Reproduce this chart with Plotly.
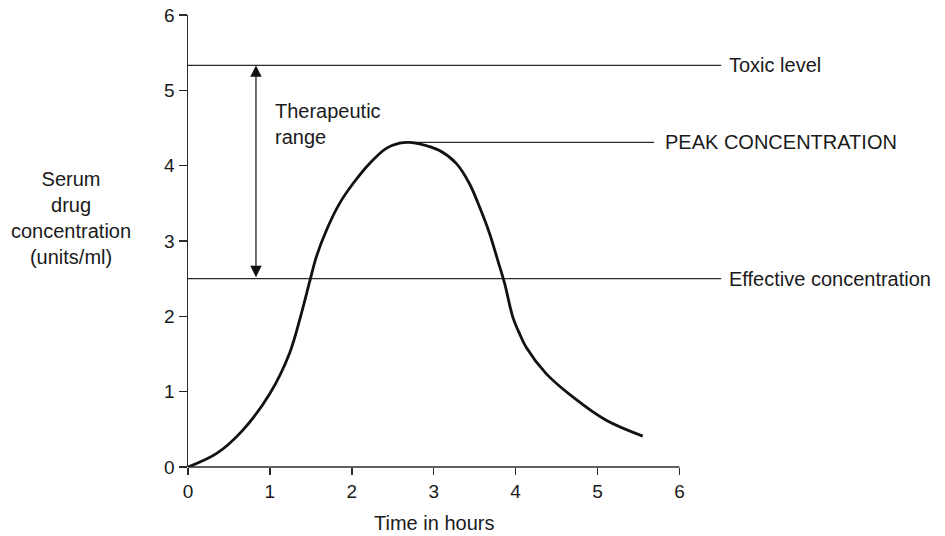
import plotly.graph_objects as go

# Drug concentration curve (hours, units/ml)
time_h = [0.0, 0.35, 0.67, 1.0, 1.24, 1.385, 1.49, 1.567, 1.689, 1.851, 2.013, 2.217, 2.421,
          2.583, 2.70, 2.827, 3.071, 3.275, 3.437, 3.560, 3.682, 3.783, 3.865, 3.966, 4.048,
          4.129, 4.373, 4.698, 5.106, 5.552]
conc = [0.0, 0.18, 0.49, 0.975, 1.51, 2.04, 2.48, 2.79, 3.14, 3.50, 3.76, 4.03, 4.23,
        4.30, 4.31, 4.29, 4.20, 4.03, 3.76, 3.45, 3.10, 2.74, 2.44, 1.99, 1.77,
        1.59, 1.24, 0.93, 0.62, 0.41]

toxic_level = 5.33
effective_level = 2.5
peak_level = 4.31
peak_line_x = [2.62, 5.69]
ref_line_x = [0.0, 6.51]
arrow_x = 0.83

x_ticks = [0, 1, 2, 3, 4, 5, 6]
y_ticks = [0, 1, 2, 3, 4, 5, 6]

FONT = "Liberation Sans, Arial, Helvetica, sans-serif"
LINE = "#2a2a2a"

fig = go.Figure()

# reference lines
fig.add_trace(go.Scatter(x=ref_line_x, y=[toxic_level, toxic_level], mode="lines",
                         line=dict(color=LINE, width=1.2), hoverinfo="skip"))
fig.add_trace(go.Scatter(x=ref_line_x, y=[effective_level, effective_level], mode="lines",
                         line=dict(color=LINE, width=1.2), hoverinfo="skip"))
fig.add_trace(go.Scatter(x=peak_line_x, y=[peak_level, peak_level], mode="lines",
                         line=dict(color=LINE, width=1.2), hoverinfo="skip"))

# concentration curve
fig.add_trace(go.Scatter(x=time_h, y=conc, mode="lines",
                         line=dict(color="#111111", width=2.8, shape="spline", smoothing=1.0),
                         hoverinfo="skip"))

# x axis line from 0 to 6
fig.add_shape(type="line", xref="x", yref="paper", x0=0, x1=6, y0=0, y1=0,
              line=dict(color=LINE, width=1.5))

annotations = [
    dict(x=arrow_x, y=toxic_level, ax=arrow_x, ay=effective_level, xref="x", yref="y",
         axref="x", ayref="y", text="", showarrow=True, arrowhead=2, arrowside="end+start",
         arrowsize=1.9, arrowwidth=1.2, arrowcolor="#111111", standoff=0, startstandoff=0),
    dict(x=1.04, y=4.55, xref="x", yref="y", text="Therapeutic<br>range", showarrow=False,
         xanchor="left", yanchor="middle", align="left", font=dict(size=20)),
    dict(x=ref_line_x[1], y=toxic_level, xref="x", yref="y", text="Toxic level", showarrow=False,
         xanchor="left", yanchor="middle", xshift=6, font=dict(size=20)),
    dict(x=ref_line_x[1], y=effective_level, xref="x", yref="y", text="Effective concentration",
         showarrow=False, xanchor="left", yanchor="middle", xshift=6, font=dict(size=20)),
    dict(x=peak_line_x[1], y=peak_level, xref="x", yref="y", text="PEAK CONCENTRATION",
         showarrow=False, xanchor="left", yanchor="middle", xshift=9, font=dict(size=20)),
    dict(x=-0.219, y=3.31, xref="paper", yref="y",
         text="Serum<br>drug<br>concentration<br>(units/ml)", showarrow=False,
         xanchor="center", yanchor="middle", align="center", font=dict(size=20)),
    dict(x=3, y=-0.124, xref="x", yref="paper", text="Time in hours", showarrow=False,
         xanchor="center", yanchor="middle", font=dict(size=20)),
]

fig.update_layout(
    width=945, height=536,
    margin=dict(l=188, r=223, t=15, b=69, autoexpand=False),
    paper_bgcolor="white", plot_bgcolor="white",
    showlegend=False,
    font=dict(family=FONT, color="#1a1a1a", size=19),
    annotations=annotations,
    xaxis=dict(range=[0, 6.52], tickvals=x_ticks, ticktext=[str(v) for v in x_ticks],
               ticks="outside", ticklen=7, tickwidth=1.5, tickcolor=LINE,
               showline=False, showgrid=False, zeroline=False, automargin=False,
               tickfont=dict(size=19)),
    yaxis=dict(range=[0, 6], tickvals=y_ticks, ticktext=[str(v) for v in y_ticks],
               ticks="outside", ticklen=8, tickwidth=1.5, tickcolor=LINE,
               showline=True, linecolor=LINE, linewidth=1.5, automargin=False,
               showgrid=False, zeroline=False, tickfont=dict(size=19)),
)

fig.write_html("out.html", config={"displayModeBar": False, "staticPlot": True},
               post_script="document.body.style.margin='0';document.body.style.overflow='hidden';")
